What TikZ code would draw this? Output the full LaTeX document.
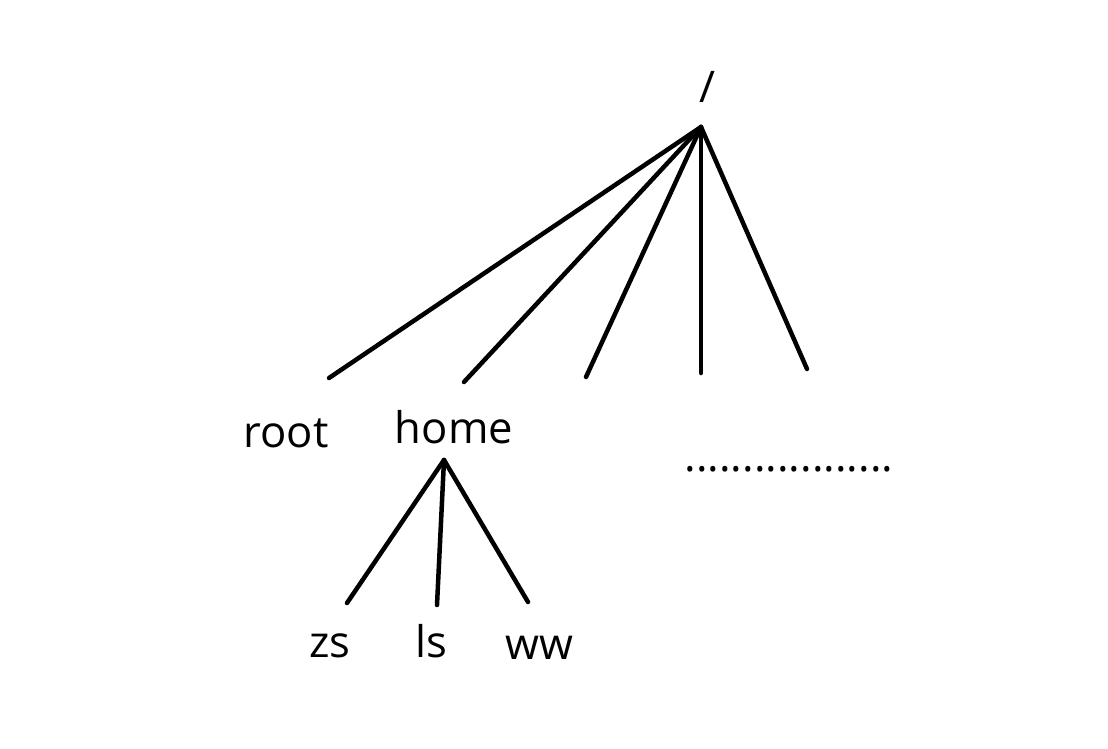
\documentclass[tikz,border=0pt]{standalone}
\usepackage{fontspec}
\setmainfont{Open Sans}
\usetikzlibrary{positioning}

\begin{document}
\begin{tikzpicture}[x=0.025cm, y=-0.025cm, line width=3.2pt, line cap=round,
    dirname/.style={anchor=base, inner sep=0pt, font=\fontsize{31}{36}\selectfont}]

  \useasboundingbox (0,0) rectangle (1108,748);

  % Define coordinates for nodes
  \node[dirname] (slash) at (707, 103) {/};
  \coordinate (top) at (701, 127);
  \coordinate (e1) at (329, 378);
  \coordinate (e2) at (464, 382);
  \coordinate (e3) at (586, 377);
  \coordinate (e4) at (701, 373);
  \coordinate (e5) at (807, 369);
  \node[dirname] (root) at (286, 447) {root};
  \node[dirname] (home) at (454, 443) {home};
  \node[dirname] (more) at (789, 471) {..................};
  \coordinate (hometop) at (444, 460);
  \coordinate (h1) at (347, 603);
  \coordinate (h2) at (437, 605);
  \coordinate (h3) at (528, 602);
  \node[dirname] (zs) at (330, 657) {zs};
  \node[dirname] (ls) at (431, 657) {ls};
  \node[dirname] (ww) at (539, 659) {ww};

  % Draw lines between nodes
  \draw (top) -- (e1);
  \draw (top) -- (e2);
  \draw (top) -- (e3);
  \draw (top) -- (e4);
  \draw (top) -- (e5);
  \draw (hometop) -- (h1);
  \draw (hometop) -- (h2);
  \draw (hometop) -- (h3);
\end{tikzpicture}
\end{document}
